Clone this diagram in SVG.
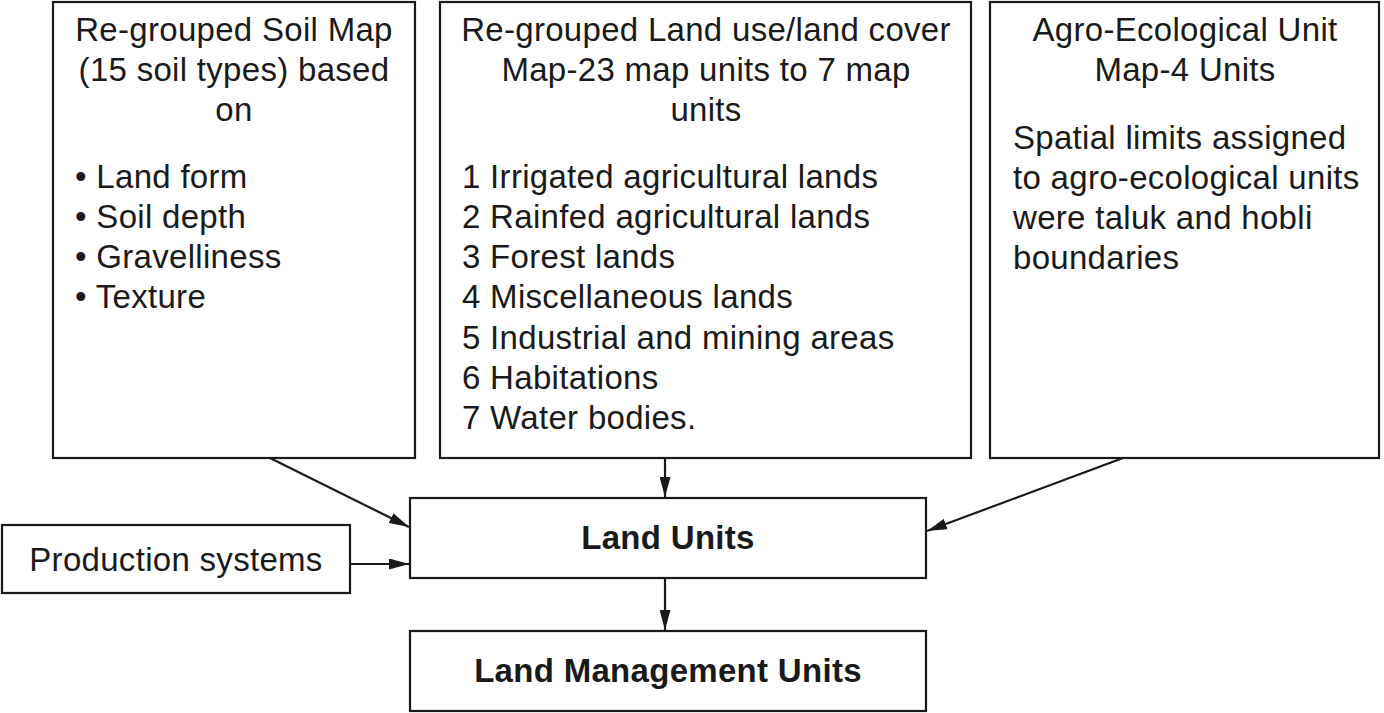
<svg xmlns="http://www.w3.org/2000/svg" width="1384" height="713" viewBox="0 0 1384 713">
<style>
.box{fill:#fff;stroke:#1a1a1a;stroke-width:2.2}
text{font-family:"Liberation Sans",Arial,sans-serif;font-size:33px;letter-spacing:0.3px;fill:#1a1a1a}
.c{text-anchor:middle}
.b{font-weight:bold}
.con{stroke:#1a1a1a;stroke-width:2.2;fill:none;marker-end:url(#ah)}
</style>
<defs>
<marker id="ah" viewBox="0 0 20 11" refX="20" refY="5.5" markerWidth="20" markerHeight="11" markerUnits="userSpaceOnUse" orient="auto">
<path d="M0,0 L20,5.5 L0,11 Z" fill="#1a1a1a"/>
</marker>
</defs>
<rect width="1384" height="713" fill="#fff"/>
<g id="soil">
<rect class="box" x="53" y="2" width="362" height="456"/>
<text class="c" x="234" y="41">Re-grouped Soil Map</text>
<text class="c" x="234" y="81">(15 soil types) based</text>
<text class="c" x="234" y="121">on</text>
<text x="75" y="188">• Land form</text>
<text x="75" y="228">• Soil depth</text>
<text x="75" y="268">• Gravelliness</text>
<text x="75" y="308">• Texture</text>
</g>
<g id="landuse">
<rect class="box" x="440" y="2" width="531" height="456"/>
<text class="c" x="706" y="41">Re-grouped Land use/land cover</text>
<text class="c" x="706" y="81">Map-23 map units to 7 map</text>
<text class="c" x="706" y="121">units</text>
<text x="462" y="188">1 Irrigated agricultural lands</text>
<text x="462" y="228">2 Rainfed agricultural lands</text>
<text x="462" y="268">3 Forest lands</text>
<text x="462" y="308">4 Miscellaneous lands</text>
<text x="462" y="349">5 Industrial and mining areas</text>
<text x="462" y="389">6 Habitations</text>
<text x="462" y="429">7 Water bodies.</text>
</g>
<g id="agro">
<rect class="box" x="990" y="2" width="389" height="456"/>
<text class="c" x="1185" y="41">Agro-Ecological Unit</text>
<text class="c" x="1185" y="81">Map-4 Units</text>
<text x="1013" y="149">Spatial limits assigned</text>
<text x="1013" y="189">to agro-ecological units</text>
<text x="1013" y="229">were taluk and hobli</text>
<text x="1013" y="269">boundaries</text>
</g>
<g id="production">
<rect class="box" x="2" y="525" width="348" height="68"/>
<text class="c" x="176" y="571">Production systems</text>
</g>
<g id="landunits">
<rect class="box" x="410" y="498" width="516" height="80"/>
<text class="c b" x="668" y="549">Land Units</text>
</g>
<g id="lmu">
<rect class="box" x="410" y="631" width="516" height="80"/>
<text class="c b" x="668" y="682">Land Management Units</text>
</g>
<g id="connectors">
<line class="con" x1="270" y1="458" x2="409" y2="527"/>
<line class="con" x1="665" y1="458" x2="665" y2="497"/>
<line class="con" x1="1123" y1="458" x2="927" y2="531"/>
<line class="con" x1="350" y1="564" x2="409" y2="564"/>
<line class="con" x1="665" y1="578" x2="665" y2="630"/>
</g>
</svg>
